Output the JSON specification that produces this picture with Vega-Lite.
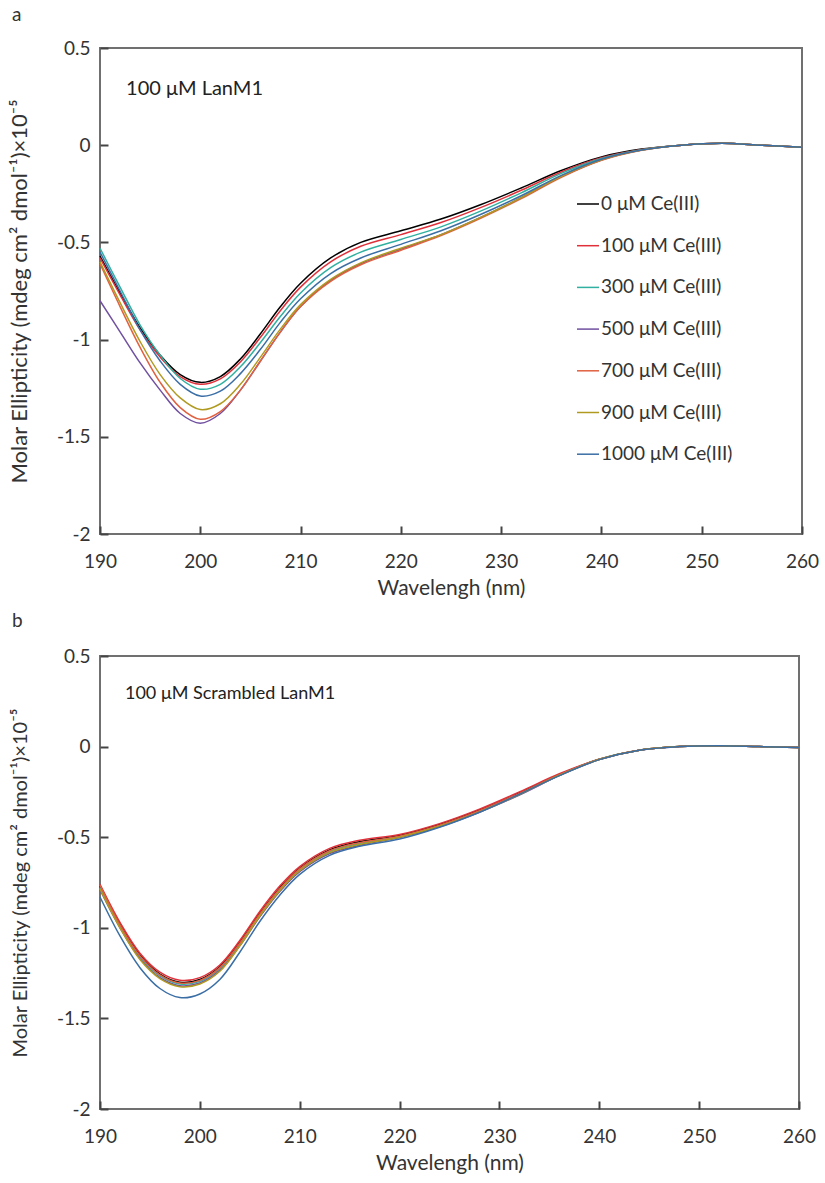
{
"$schema": "https://vega.github.io/schema/vega-lite/v6.json",
"background": "white",
"padding": {"left": 7, "top": 5, "right": 10, "bottom": 5},
"spacing": 12,
"config": {
  "font": "Lato",
  "view": {"stroke": "#707070", "strokeWidth": 2},
  "axis": {"grid": false, "domain": false, "ticks": true, "tickSize": 8, "offset": -8, "tickColor": "#444444", "tickWidth": 2, "zindex": 1, "labelFontSize": 19, "labelColor": "#333333", "labelFlush": false, "titleFontSize": 21, "titleFontWeight": "normal", "titleColor": "#333333"},
  "title": {"fontSize": 19, "fontWeight": "normal", "anchor": "start", "frame": "group", "color": "#333333"},
  "line": {"strokeWidth": 1.5, "interpolate": "catmull-rom"}
},
"resolve": {"scale": {"color": "independent"}, "legend": {"color": "independent"}},
"datasets": {
"a": [
{"w":190,"c":0,"v":-0.57},{"w":192,"c":0,"v":-0.76},{"w":194,"c":0,"v":-0.94},{"w":196,"c":0,"v":-1.08},{"w":198,"c":0,"v":-1.18},{"w":200,"c":0,"v":-1.22},{"w":202,"c":0,"v":-1.19},{"w":204,"c":0,"v":-1.10},{"w":206,"c":0,"v":-0.97},{"w":208,"c":0,"v":-0.83},{"w":210,"c":0,"v":-0.71},{"w":213,"c":0,"v":-0.58},{"w":216,"c":0,"v":-0.50},{"w":220,"c":0,"v":-0.44},{"w":224,"c":0,"v":-0.38},{"w":228,"c":0,"v":-0.305},{"w":232,"c":0,"v":-0.22},{"w":236,"c":0,"v":-0.13},{"w":240,"c":0,"v":-0.06},{"w":244,"c":0,"v":-0.02},{"w":248,"c":0,"v":0.0},{"w":252,"c":0,"v":0.01},{"w":256,"c":0,"v":0.0},{"w":260,"c":0,"v":-0.01},
{"w":190,"c":100,"v":-0.58},{"w":192,"c":100,"v":-0.77},{"w":194,"c":100,"v":-0.95},{"w":196,"c":100,"v":-1.09},{"w":198,"c":100,"v":-1.19},{"w":200,"c":100,"v":-1.23},{"w":202,"c":100,"v":-1.202},{"w":204,"c":100,"v":-1.115},{"w":206,"c":100,"v":-0.988},{"w":208,"c":100,"v":-0.85},{"w":210,"c":100,"v":-0.73},{"w":213,"c":100,"v":-0.60},{"w":216,"c":100,"v":-0.52},{"w":220,"c":100,"v":-0.46},{"w":224,"c":100,"v":-0.398},{"w":228,"c":100,"v":-0.32},{"w":232,"c":100,"v":-0.232},{"w":236,"c":100,"v":-0.138},{"w":240,"c":100,"v":-0.065},{"w":244,"c":100,"v":-0.022},{"w":248,"c":100,"v":0.0},{"w":252,"c":100,"v":0.01},{"w":256,"c":100,"v":0.0},{"w":260,"c":100,"v":-0.01},
{"w":190,"c":300,"v":-0.53},{"w":192,"c":300,"v":-0.73},{"w":194,"c":300,"v":-0.925},{"w":196,"c":300,"v":-1.08},{"w":198,"c":300,"v":-1.20},{"w":200,"c":300,"v":-1.255},{"w":202,"c":300,"v":-1.23},{"w":204,"c":300,"v":-1.14},{"w":206,"c":300,"v":-1.015},{"w":208,"c":300,"v":-0.88},{"w":210,"c":300,"v":-0.76},{"w":213,"c":300,"v":-0.63},{"w":216,"c":300,"v":-0.55},{"w":220,"c":300,"v":-0.485},{"w":224,"c":300,"v":-0.42},{"w":228,"c":300,"v":-0.338},{"w":232,"c":300,"v":-0.245},{"w":236,"c":300,"v":-0.145},{"w":240,"c":300,"v":-0.068},{"w":244,"c":300,"v":-0.023},{"w":248,"c":300,"v":0.0},{"w":252,"c":300,"v":0.01},{"w":256,"c":300,"v":0.0},{"w":260,"c":300,"v":-0.01},
{"w":190,"c":500,"v":-0.80},{"w":192,"c":500,"v":-0.96},{"w":194,"c":500,"v":-1.12},{"w":196,"c":500,"v":-1.26},{"w":198,"c":500,"v":-1.38},{"w":200,"c":500,"v":-1.43},{"w":202,"c":500,"v":-1.38},{"w":204,"c":500,"v":-1.26},{"w":206,"c":500,"v":-1.11},{"w":208,"c":500,"v":-0.96},{"w":210,"c":500,"v":-0.83},{"w":213,"c":500,"v":-0.695},{"w":216,"c":500,"v":-0.61},{"w":220,"c":500,"v":-0.535},{"w":224,"c":500,"v":-0.46},{"w":228,"c":500,"v":-0.37},{"w":232,"c":500,"v":-0.27},{"w":236,"c":500,"v":-0.162},{"w":240,"c":500,"v":-0.076},{"w":244,"c":500,"v":-0.025},{"w":248,"c":500,"v":0.0},{"w":252,"c":500,"v":0.01},{"w":256,"c":500,"v":0.0},{"w":260,"c":500,"v":-0.01},
{"w":190,"c":700,"v":-0.61},{"w":192,"c":700,"v":-0.83},{"w":194,"c":700,"v":-1.04},{"w":196,"c":700,"v":-1.22},{"w":198,"c":700,"v":-1.35},{"w":200,"c":700,"v":-1.41},{"w":202,"c":700,"v":-1.37},{"w":204,"c":700,"v":-1.26},{"w":206,"c":700,"v":-1.11},{"w":208,"c":700,"v":-0.96},{"w":210,"c":700,"v":-0.83},{"w":213,"c":700,"v":-0.70},{"w":216,"c":700,"v":-0.615},{"w":220,"c":700,"v":-0.54},{"w":224,"c":700,"v":-0.465},{"w":228,"c":700,"v":-0.375},{"w":232,"c":700,"v":-0.275},{"w":236,"c":700,"v":-0.165},{"w":240,"c":700,"v":-0.078},{"w":244,"c":700,"v":-0.026},{"w":248,"c":700,"v":0.0},{"w":252,"c":700,"v":0.01},{"w":256,"c":700,"v":0.0},{"w":260,"c":700,"v":-0.01},
{"w":190,"c":900,"v":-0.60},{"w":192,"c":900,"v":-0.81},{"w":194,"c":900,"v":-1.01},{"w":196,"c":900,"v":-1.18},{"w":198,"c":900,"v":-1.30},{"w":200,"c":900,"v":-1.36},{"w":202,"c":900,"v":-1.33},{"w":204,"c":900,"v":-1.23},{"w":206,"c":900,"v":-1.09},{"w":208,"c":900,"v":-0.945},{"w":210,"c":900,"v":-0.82},{"w":213,"c":900,"v":-0.69},{"w":216,"c":900,"v":-0.605},{"w":220,"c":900,"v":-0.53},{"w":224,"c":900,"v":-0.46},{"w":228,"c":900,"v":-0.37},{"w":232,"c":900,"v":-0.27},{"w":236,"c":900,"v":-0.16},{"w":240,"c":900,"v":-0.075},{"w":244,"c":900,"v":-0.025},{"w":248,"c":900,"v":0.0},{"w":252,"c":900,"v":0.01},{"w":256,"c":900,"v":0.0},{"w":260,"c":900,"v":-0.01},
{"w":190,"c":1000,"v":-0.55},{"w":192,"c":1000,"v":-0.75},{"w":194,"c":1000,"v":-0.95},{"w":196,"c":1000,"v":-1.11},{"w":198,"c":1000,"v":-1.23},{"w":200,"c":1000,"v":-1.29},{"w":202,"c":1000,"v":-1.265},{"w":204,"c":1000,"v":-1.175},{"w":206,"c":1000,"v":-1.05},{"w":208,"c":1000,"v":-0.91},{"w":210,"c":1000,"v":-0.79},{"w":213,"c":1000,"v":-0.66},{"w":216,"c":1000,"v":-0.58},{"w":220,"c":1000,"v":-0.51},{"w":224,"c":1000,"v":-0.44},{"w":228,"c":1000,"v":-0.355},{"w":232,"c":1000,"v":-0.26},{"w":236,"c":1000,"v":-0.155},{"w":240,"c":1000,"v":-0.072},{"w":244,"c":1000,"v":-0.025},{"w":248,"c":1000,"v":0.0},{"w":252,"c":1000,"v":0.01},{"w":256,"c":1000,"v":0.0},{"w":260,"c":1000,"v":-0.01}
],
"b": [
{"w":190,"c":0,"v":-0.77},{"w":192,"c":0,"v":-0.98},{"w":194,"c":0,"v":-1.15},{"w":196,"c":0,"v":-1.255},{"w":198,"c":0,"v":-1.30},{"w":200,"c":0,"v":-1.285},{"w":202,"c":0,"v":-1.215},{"w":204,"c":0,"v":-1.08},{"w":206,"c":0,"v":-0.92},{"w":208,"c":0,"v":-0.78},{"w":210,"c":0,"v":-0.67},{"w":213,"c":0,"v":-0.57},{"w":216,"c":0,"v":-0.525},{"w":220,"c":0,"v":-0.49},{"w":224,"c":0,"v":-0.43},{"w":228,"c":0,"v":-0.35},{"w":232,"c":0,"v":-0.255},{"w":236,"c":0,"v":-0.155},{"w":240,"c":0,"v":-0.07},{"w":244,"c":0,"v":-0.02},{"w":248,"c":0,"v":0.0},{"w":252,"c":0,"v":0.005},{"w":256,"c":0,"v":0.0},{"w":260,"c":0,"v":-0.005},
{"w":190,"c":100,"v":-0.76},{"w":192,"c":100,"v":-0.97},{"w":194,"c":100,"v":-1.14},{"w":196,"c":100,"v":-1.245},{"w":198,"c":100,"v":-1.29},{"w":200,"c":100,"v":-1.275},{"w":202,"c":100,"v":-1.205},{"w":204,"c":100,"v":-1.07},{"w":206,"c":100,"v":-0.91},{"w":208,"c":100,"v":-0.77},{"w":210,"c":100,"v":-0.662},{"w":213,"c":100,"v":-0.562},{"w":216,"c":100,"v":-0.517},{"w":220,"c":100,"v":-0.485},{"w":224,"c":100,"v":-0.425},{"w":228,"c":100,"v":-0.345},{"w":232,"c":100,"v":-0.25},{"w":236,"c":100,"v":-0.15},{"w":240,"c":100,"v":-0.07},{"w":244,"c":100,"v":-0.02},{"w":248,"c":100,"v":0.0},{"w":252,"c":100,"v":0.005},{"w":256,"c":100,"v":0.0},{"w":260,"c":100,"v":-0.005},
{"w":190,"c":300,"v":-0.78},{"w":192,"c":300,"v":-0.99},{"w":194,"c":300,"v":-1.16},{"w":196,"c":300,"v":-1.265},{"w":198,"c":300,"v":-1.31},{"w":200,"c":300,"v":-1.295},{"w":202,"c":300,"v":-1.225},{"w":204,"c":300,"v":-1.09},{"w":206,"c":300,"v":-0.93},{"w":208,"c":300,"v":-0.79},{"w":210,"c":300,"v":-0.68},{"w":213,"c":300,"v":-0.58},{"w":216,"c":300,"v":-0.535},{"w":220,"c":300,"v":-0.498},{"w":224,"c":300,"v":-0.438},{"w":228,"c":300,"v":-0.358},{"w":232,"c":300,"v":-0.263},{"w":236,"c":300,"v":-0.159},{"w":240,"c":300,"v":-0.07},{"w":244,"c":300,"v":-0.02},{"w":248,"c":300,"v":0.0},{"w":252,"c":300,"v":0.005},{"w":256,"c":300,"v":0.0},{"w":260,"c":300,"v":-0.005},
{"w":190,"c":500,"v":-0.79},{"w":192,"c":500,"v":-1.00},{"w":194,"c":500,"v":-1.17},{"w":196,"c":500,"v":-1.275},{"w":198,"c":500,"v":-1.32},{"w":200,"c":500,"v":-1.305},{"w":202,"c":500,"v":-1.235},{"w":204,"c":500,"v":-1.10},{"w":206,"c":500,"v":-0.94},{"w":208,"c":500,"v":-0.80},{"w":210,"c":500,"v":-0.69},{"w":213,"c":500,"v":-0.59},{"w":216,"c":500,"v":-0.545},{"w":220,"c":500,"v":-0.502},{"w":224,"c":500,"v":-0.442},{"w":228,"c":500,"v":-0.362},{"w":232,"c":500,"v":-0.267},{"w":236,"c":500,"v":-0.16},{"w":240,"c":500,"v":-0.072},{"w":244,"c":500,"v":-0.02},{"w":248,"c":500,"v":0.0},{"w":252,"c":500,"v":0.005},{"w":256,"c":500,"v":0.0},{"w":260,"c":500,"v":-0.005},
{"w":190,"c":700,"v":-0.765},{"w":192,"c":700,"v":-0.985},{"w":194,"c":700,"v":-1.155},{"w":196,"c":700,"v":-1.26},{"w":198,"c":700,"v":-1.305},{"w":200,"c":700,"v":-1.29},{"w":202,"c":700,"v":-1.22},{"w":204,"c":700,"v":-1.085},{"w":206,"c":700,"v":-0.925},{"w":208,"c":700,"v":-0.785},{"w":210,"c":700,"v":-0.675},{"w":213,"c":700,"v":-0.575},{"w":216,"c":700,"v":-0.53},{"w":220,"c":700,"v":-0.494},{"w":224,"c":700,"v":-0.434},{"w":228,"c":700,"v":-0.354},{"w":232,"c":700,"v":-0.258},{"w":236,"c":700,"v":-0.157},{"w":240,"c":700,"v":-0.07},{"w":244,"c":700,"v":-0.02},{"w":248,"c":700,"v":0.0},{"w":252,"c":700,"v":0.005},{"w":256,"c":700,"v":0.0},{"w":260,"c":700,"v":-0.005},
{"w":190,"c":900,"v":-0.785},{"w":192,"c":900,"v":-1.0},{"w":194,"c":900,"v":-1.175},{"w":196,"c":900,"v":-1.28},{"w":198,"c":900,"v":-1.325},{"w":200,"c":900,"v":-1.31},{"w":202,"c":900,"v":-1.24},{"w":204,"c":900,"v":-1.1},{"w":206,"c":900,"v":-0.935},{"w":208,"c":900,"v":-0.795},{"w":210,"c":900,"v":-0.685},{"w":213,"c":900,"v":-0.585},{"w":216,"c":900,"v":-0.54},{"w":220,"c":900,"v":-0.5},{"w":224,"c":900,"v":-0.44},{"w":228,"c":900,"v":-0.36},{"w":232,"c":900,"v":-0.265},{"w":236,"c":900,"v":-0.158},{"w":240,"c":900,"v":-0.071},{"w":244,"c":900,"v":-0.02},{"w":248,"c":900,"v":0.0},{"w":252,"c":900,"v":0.005},{"w":256,"c":900,"v":0.0},{"w":260,"c":900,"v":-0.005},
{"w":190,"c":1000,"v":-0.83},{"w":192,"c":1000,"v":-1.045},{"w":194,"c":1000,"v":-1.22},{"w":196,"c":1000,"v":-1.335},{"w":198,"c":1000,"v":-1.385},{"w":200,"c":1000,"v":-1.365},{"w":202,"c":1000,"v":-1.285},{"w":204,"c":1000,"v":-1.135},{"w":206,"c":1000,"v":-0.965},{"w":208,"c":1000,"v":-0.82},{"w":210,"c":1000,"v":-0.705},{"w":213,"c":1000,"v":-0.60},{"w":216,"c":1000,"v":-0.55},{"w":220,"c":1000,"v":-0.51},{"w":224,"c":1000,"v":-0.445},{"w":228,"c":1000,"v":-0.362},{"w":232,"c":1000,"v":-0.263},{"w":236,"c":1000,"v":-0.16},{"w":240,"c":1000,"v":-0.072},{"w":244,"c":1000,"v":-0.02},{"w":248,"c":1000,"v":0.0},{"w":252,"c":1000,"v":0.005},{"w":256,"c":1000,"v":0.0},{"w":260,"c":1000,"v":-0.005}
]
},
"vconcat": [
{
  "width": 702, "height": 486,
  "title": {"text": "a", "dx": -88, "offset": 14},
  "layer": [
    {
      "data": {"name": "a"},
      "mark": {"type": "line"},
      "encoding": {
        "x": {"field": "w", "type": "quantitative", "scale": {"domain": [190, 260], "nice": false, "zero": false}, "axis": {"values": [190, 200, 210, 220, 230, 240, 250, 260], "title": "Wavelengh (nm)", "labelPadding": 18, "titlePadding": 6}},
        "y": {"field": "v", "type": "quantitative", "scale": {"domain": [-2, 0.5], "nice": false, "zero": false}, "axis": {"values": [0.5, 0, -0.5, -1, -1.5, -2], "labelExpr": "toString(datum.value)", "title": "Molar Ellipticity (mdeg cm² dmol⁻¹)×10⁻⁵", "titleFontSize": 22, "labelPadding": 10, "titlePadding": 25}},
        "color": {"field": "c", "type": "nominal", "scale": {"domain": [0, 100, 300, 500, 700, 900, 1000], "range": ["#000000", "#e0303a", "#30b0a0", "#7050a0", "#e06040", "#b09a20", "#3a6ea5"]},
          "legend": {"title": null, "orient": "none", "legendX": 476, "legendY": 144, "direction": "vertical", "labelFontSize": 19, "labelColor": "#333333", "labelExpr": "datum.label + ' μM Ce(III)'", "symbolType": "stroke", "symbolSize": 484, "symbolStrokeWidth": 2, "rowPadding": 19.7, "labelOffset": 1}}
      }
    },
    {
      "data": {"values": [{}]},
      "mark": {"type": "text", "align": "left", "baseline": "middle", "fontSize": 20, "color": "#222222"},
      "encoding": {"x": {"datum": 192.6}, "y": {"datum": 0.29}, "text": {"value": "100 μM LanM1"}}
    }
  ]
},
{
  "width": 699, "height": 453,
  "title": {"text": "b", "dx": -88, "offset": 16},
  "layer": [
    {
      "data": {"name": "b"},
      "mark": {"type": "line"},
      "encoding": {
        "x": {"field": "w", "type": "quantitative", "scale": {"domain": [190, 260], "nice": false, "zero": false}, "axis": {"values": [190, 200, 210, 220, 230, 240, 250, 260], "title": "Wavelengh (nm)", "labelPadding": 18, "titlePadding": 6}},
        "y": {"field": "v", "type": "quantitative", "scale": {"domain": [-2, 0.5], "nice": false, "zero": false}, "axis": {"values": [0.5, 0, -0.5, -1, -1.5, -2], "labelExpr": "toString(datum.value)", "title": "Molar Ellipticity (mdeg cm² dmol⁻¹)×10⁻⁵", "titleFontSize": 20, "labelPadding": 10, "titlePadding": 26}},
        "color": {"field": "c", "type": "nominal", "scale": {"domain": [0, 100, 300, 500, 700, 900, 1000], "range": ["#000000", "#e0303a", "#30b0a0", "#7050a0", "#e06040", "#b09a20", "#3a6ea5"]}, "legend": null}
      }
    },
    {
      "data": {"values": [{}]},
      "mark": {"type": "text", "align": "left", "baseline": "middle", "fontSize": 18, "color": "#222222"},
      "encoding": {"x": {"datum": 192.5}, "y": {"datum": 0.29}, "text": {"value": "100 μM Scrambled LanM1"}}
    }
  ]
}
]
}
